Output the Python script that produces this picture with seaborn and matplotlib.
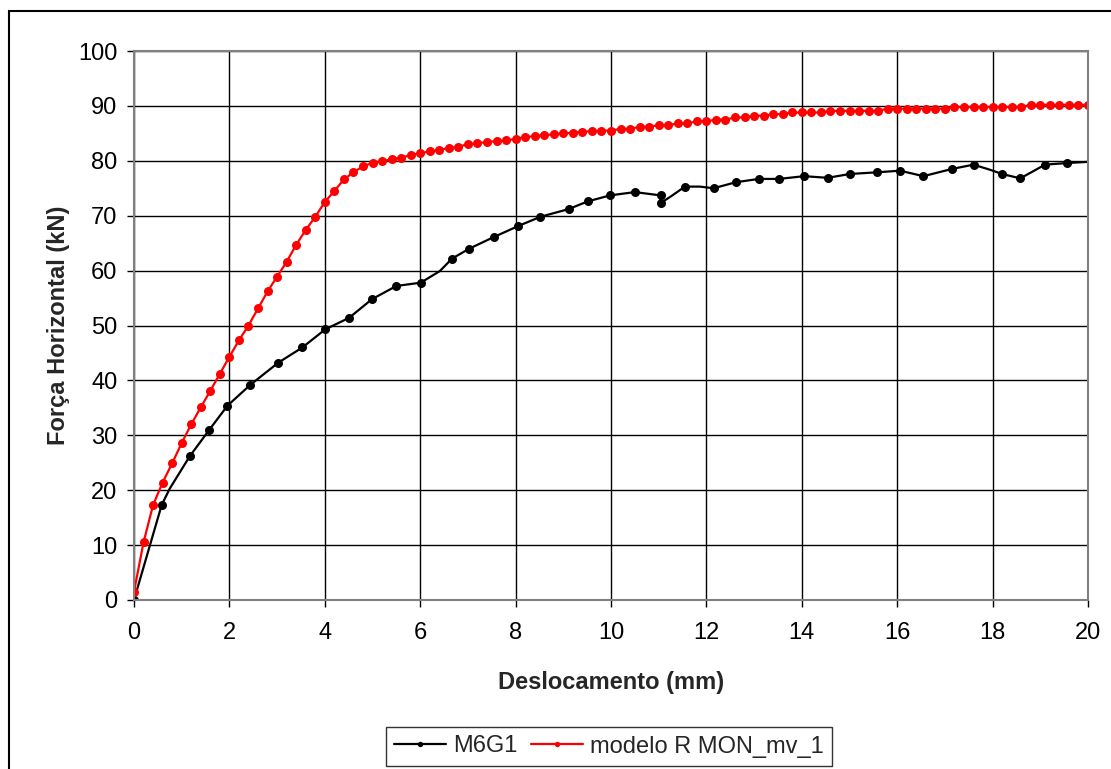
import numpy as np
import pandas as pd
import seaborn as sns
import matplotlib.pyplot as plt
from matplotlib.patches import Rectangle

# ensaio M6G1
m6g1_x = [0.0, 0.58, 0.75, 1.17, 1.57, 1.96, 2.44, 3.02, 3.53, 4.01, 4.51, 4.99,
          5.50, 6.01, 6.41, 6.67, 7.03, 7.54, 8.05, 8.52, 9.11, 9.51, 9.98, 10.50,
          11.04, 11.04, 11.27, 11.55, 11.86, 12.15, 12.62, 13.10, 13.52, 14.05,
          14.54, 15.01, 15.57, 16.06, 16.55, 17.14, 17.60, 17.97, 18.20, 18.58,
          19.10, 19.57, 20.20]
m6g1_y = [0.0, 17.3, 20.3, 26.2, 30.9, 35.4, 39.2, 43.2, 46.0, 49.3, 51.4, 54.8,
          57.2, 57.8, 59.9, 62.2, 64.0, 66.1, 68.1, 69.8, 71.2, 72.6, 73.7, 74.3,
          73.7, 72.3, 73.6, 75.3, 75.3, 75.0, 76.1, 76.7, 76.7, 77.2,
          76.9, 77.6, 77.9, 78.2, 77.2, 78.5, 79.3, 78.3, 77.6, 76.8,
          79.3, 79.6, 79.9]
# pontos com marcador (os outros so definem a forma da linha)
m6g1_mark = [1, 1, 0, 1, 1, 1, 1, 1, 1, 1, 1, 1,
             1, 1, 0, 1, 1, 1, 1, 1, 1, 1, 1, 1,
             1, 1, 0, 1, 0, 1, 1, 1, 1, 1,
             1, 1, 1, 1, 1, 1, 1, 0, 1, 1,
             1, 1, 0]

# modelo R MON_mv_1
mod_x = [0.0, 0.2, 0.4, 0.6, 0.8, 1.0, 1.2, 1.4, 1.6, 1.8, 2.0, 2.2, 2.4, 2.6, 2.8,
         3.0, 3.2, 3.4, 3.6, 3.8, 4.0, 4.2, 4.4, 4.6, 4.8, 5.0, 5.2, 5.4, 5.6, 5.8,
         6.0, 6.2, 6.4, 6.6, 6.8, 7.0, 7.2, 7.4, 7.6, 7.8, 8.0, 8.2, 8.4, 8.6, 8.8,
         9.0, 9.2, 9.4, 9.6, 9.8, 10.0, 10.2, 10.4, 10.6, 10.8, 11.0, 11.2, 11.4,
         11.6, 11.8, 12.0, 12.2, 12.4, 12.6, 12.8, 13.0, 13.2, 13.4, 13.6, 13.8,
         14.0, 14.2, 14.4, 14.6, 14.8, 15.0, 15.2, 15.4, 15.6, 15.8, 16.0, 16.2,
         16.4, 16.6, 16.8, 17.0, 17.2, 17.4, 17.6, 17.8, 18.0, 18.2, 18.4, 18.6,
         18.8, 19.0, 19.2, 19.4, 19.6, 19.8, 20.0]
mod_y = [1.5, 10.5, 17.3, 21.4, 24.9, 28.6, 32.0, 35.1, 38.1, 41.2, 44.3, 47.3, 50.0,
         53.1, 56.2, 58.9, 61.6, 64.7, 67.4, 69.8, 72.5, 74.5, 76.6, 77.9, 79.0,
         79.6, 79.9, 80.3, 80.6, 81.0, 81.4, 81.7, 82.0, 82.3, 82.6, 83.0, 83.2,
         83.4, 83.6, 83.7, 84.0, 84.3, 84.5, 84.7, 84.8, 85.0, 85.1, 85.3, 85.4,
         85.5, 85.5, 85.8, 85.8, 86.2, 86.2, 86.5, 86.5, 86.8, 86.8, 87.2, 87.2,
         87.5, 87.5, 87.9, 87.9, 88.2, 88.2, 88.5, 88.5, 88.8, 88.8, 88.8, 88.8,
         89.1, 89.1, 89.1, 89.1, 89.1, 89.1, 89.5, 89.5, 89.5, 89.5, 89.5, 89.5,
         89.5, 89.8, 89.8, 89.8, 89.8, 89.8, 89.8, 89.8, 89.8, 90.2, 90.2,
         90.2, 90.2, 90.2, 90.2, 90.2]

x_ticks = [0, 2, 4, 6, 8, 10, 12, 14, 16, 18, 20]
y_ticks = [0, 10, 20, 30, 40, 50, 60, 70, 80, 90, 100]

sns.set_theme(style="white")
plt.rcParams['font.family'] = ['Liberation Sans', 'DejaVu Sans']

fig = plt.figure(figsize=(11.11, 7.69), dpi=100)
ax = fig.add_axes([134 / 1111, 1 - 600 / 769, (1088 - 134) / 1111, (600 - 51) / 769])

df1 = pd.DataFrame({"x": m6g1_x, "y": m6g1_y})
df2 = pd.DataFrame({"x": mod_x, "y": mod_y})
idx = [i for i, m in enumerate(m6g1_mark) if m]

sns.lineplot(data=df1, x="x", y="y", ax=ax, sort=False, estimator=None,
             color="black", linewidth=1.6, marker="o", markersize=6.5,
             markeredgewidth=0, markevery=idx, label="M6G1")
sns.lineplot(data=df2, x="x", y="y", ax=ax, sort=False, estimator=None,
             color="#ff0000", linewidth=1.6, marker="o", markersize=6.5,
             markeredgewidth=0, label="modelo R MON_mv_1")

ax.set_xlim(0, 20)
ax.set_ylim(0, 100)
ax.set_xticks(x_ticks)
ax.set_yticks(y_ticks)
ax.grid(True, color="black", linewidth=1.0)
ax.set_axisbelow(True)
for s in ax.spines.values():
    s.set_color("#808080")
    s.set_linewidth(1.5)
ax.tick_params(axis="both", direction="out", length=5, width=1, color="black",
               labelsize=17, labelcolor="black", bottom=True, left=True)
ax.tick_params(axis="x", pad=11)
ax.tick_params(axis="y", pad=7)

ax.set_xlabel("Deslocamento (mm)", fontsize=17, fontweight="bold", labelpad=19)
ax.set_ylabel("Força Horizontal (kN)", fontsize=17, fontweight="bold", labelpad=6)

ax.get_legend().remove()
h, l = ax.get_legend_handles_labels()
leg = fig.legend(h, l, loc="center", bbox_to_anchor=(609 / 1111, 1 - 746.5 / 769),
                 ncol=2, fontsize=17, frameon=True, fancybox=False, markerscale=0.6,
                 handlelength=2.2, columnspacing=0.6, handletextpad=0.3,
                 borderpad=0.35)
leg.get_frame().set_edgecolor("black")
leg.get_frame().set_linewidth(1.0)

fig.patches.append(Rectangle((9 / 1111, -0.05), 1.2, 1 - 11 / 769 + 0.05,
                             transform=fig.transFigure, fill=False,
                             edgecolor="black", linewidth=1.5))

fig.savefig("out.png", dpi=100)
